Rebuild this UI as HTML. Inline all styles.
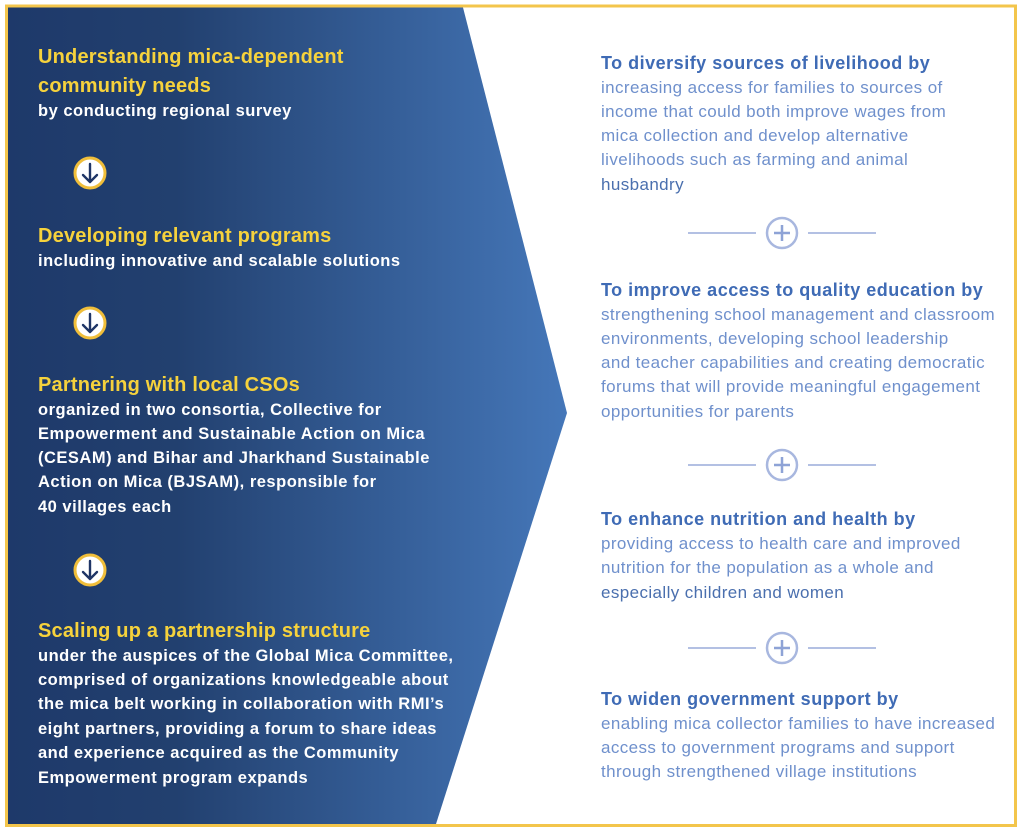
<!DOCTYPE html>
<html><head><meta charset="utf-8"><style>
body{margin:0;width:1024px;height:832px;background:#fff;position:relative;overflow:hidden;font-family:"Liberation Sans",sans-serif}
.l{position:absolute;white-space:nowrap;line-height:24px}
.yh{color:#f6d23c;font-weight:bold;font-size:20px;letter-spacing:0.2px}
.wb{color:#fff;font-weight:bold;font-size:16.5px;letter-spacing:0.5px}
.bh{color:#3f6bb5;font-weight:bold;font-size:18px;letter-spacing:0.5px}
.bb{color:#6f90cc;font-size:17px;letter-spacing:0.4px}
.dk{color:#4a6fae}
</style></head><body>
<svg width="1024" height="832" style="position:absolute;left:0;top:0">
<defs><linearGradient id="g" x1="0" x2="1" y1="0" y2="0">
<stop offset="0" stop-color="#1e396a"/><stop offset="0.3" stop-color="#22406f"/><stop offset="1" stop-color="#4577b9"/></linearGradient></defs>
<rect x="6.5" y="6" width="1009" height="819.5" fill="none" stroke="#f3c54b" stroke-width="3"/>
<polygon points="8,7.5 463,7.5 567,413 436,824 8,824" fill="url(#g)"/>
<g fill="#fff" stroke="#f0be3a" stroke-width="3">
<circle cx="90" cy="173" r="15"/><circle cx="90" cy="323" r="15"/><circle cx="90" cy="570" r="15"/></g>
<g fill="none" stroke="#1f3566" stroke-width="2.4" stroke-linecap="round" stroke-linejoin="round">
<path d="M90 164v17M83 175l7 7 7-7"/><path d="M90 314v17M83 325l7 7 7-7"/><path d="M90 561v17M83 572l7 7 7-7"/></g>
<g fill="none" stroke="#a8b7df" stroke-width="1.8">
<line x1="688" y1="233" x2="756" y2="233"/><line x1="808" y1="233" x2="876" y2="233"/><circle cx="782" cy="233" r="15" stroke-width="2.5"/><path d="M782 225v16M774 233h16" stroke="#8ea3d6" stroke-width="2.5"/>
<line x1="688" y1="465" x2="756" y2="465"/><line x1="808" y1="465" x2="876" y2="465"/><circle cx="782" cy="465" r="15" stroke-width="2.5"/><path d="M782 457v16M774 465h16" stroke="#8ea3d6" stroke-width="2.5"/>
<line x1="688" y1="648" x2="756" y2="648"/><line x1="808" y1="648" x2="876" y2="648"/><circle cx="782" cy="648" r="15" stroke-width="2.5"/><path d="M782 640v16M774 648h16" stroke="#8ea3d6" stroke-width="2.5"/>
</g></svg>

<div class="l yh" style="left:38px;top:45px">Understanding mica-dependent</div>
<div class="l yh" style="left:38px;top:74px">community needs</div>
<div class="l wb" style="left:38px;top:99px">by conducting regional survey</div>

<div class="l yh" style="left:38px;top:224px">Developing relevant programs</div>
<div class="l wb" style="left:38px;top:249px">including innovative and scalable solutions</div>

<div class="l yh" style="left:38px;top:373px">Partnering with local CSOs</div>
<div class="l wb" style="left:38px;top:398px">organized in two consortia, Collective for</div>
<div class="l wb" style="left:38px;top:422px">Empowerment and Sustainable Action on Mica</div>
<div class="l wb" style="left:38px;top:446px">(CESAM) and Bihar and Jharkhand Sustainable</div>
<div class="l wb" style="left:38px;top:470px">Action on Mica (BJSAM), responsible for</div>
<div class="l wb" style="left:38px;top:495px">40 villages each</div>

<div class="l yh" style="left:38px;top:619px">Scaling up a partnership structure</div>
<div class="l wb" style="left:38px;top:644px">under the auspices of the Global Mica Committee,</div>
<div class="l wb" style="left:38px;top:668px">comprised of organizations knowledgeable about</div>
<div class="l wb" style="left:38px;top:692px">the mica belt working in collaboration with RMI’s</div>
<div class="l wb" style="left:38px;top:717px">eight partners, providing a forum to share ideas</div>
<div class="l wb" style="left:38px;top:741px">and experience acquired as the Community</div>
<div class="l wb" style="left:38px;top:766px">Empowerment program expands</div>

<div class="l bh" style="left:601px;top:51px">To diversify sources of livelihood by</div>
<div class="l bb" style="left:601px;top:76px">increasing access for families to sources of</div>
<div class="l bb" style="left:601px;top:100px">income that could both improve wages from</div>
<div class="l bb" style="left:601px;top:124px">mica collection and develop alternative</div>
<div class="l bb" style="left:601px;top:148px">livelihoods such as farming and animal</div>
<div class="l bb dk" style="left:601px;top:173px">husbandry</div>

<div class="l bh" style="left:601px;top:278px">To improve access to quality education by</div>
<div class="l bb" style="left:601px;top:303px">strengthening school management and classroom</div>
<div class="l bb" style="left:601px;top:327px">environments, developing school leadership</div>
<div class="l bb" style="left:601px;top:351px">and teacher capabilities and creating democratic</div>
<div class="l bb" style="left:601px;top:375px">forums that will provide meaningful engagement</div>
<div class="l bb" style="left:601px;top:400px">opportunities for parents</div>

<div class="l bh" style="left:601px;top:507px">To enhance nutrition and health by</div>
<div class="l bb" style="left:601px;top:532px">providing access to health care and improved</div>
<div class="l bb" style="left:601px;top:556px">nutrition for the population as a whole and</div>
<div class="l bb dk" style="left:601px;top:581px">especially children and women</div>

<div class="l bh" style="left:601px;top:687px">To widen government support by</div>
<div class="l bb" style="left:601px;top:712px">enabling mica collector families to have increased</div>
<div class="l bb" style="left:601px;top:736px">access to government programs and support</div>
<div class="l bb" style="left:601px;top:760px">through strengthened village institutions</div>
</body></html>
